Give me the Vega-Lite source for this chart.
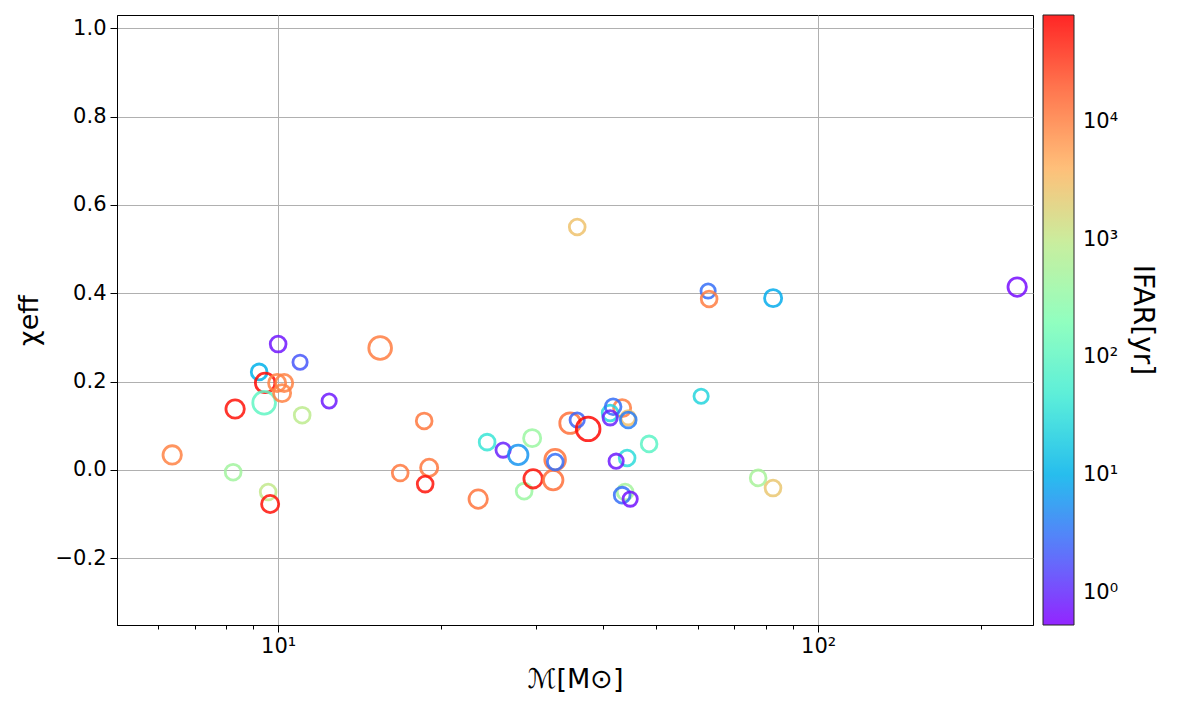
{
  "$schema": "https://vega.github.io/schema/vega-lite/v6.json",
  "width": 916,
  "height": 610,
  "autosize": "none",
  "padding": {"left": 117, "top": 15, "right": 163, "bottom": 88},
  "background": "white",
  "config": {
    "font": "DejaVu Sans",
    "view": {"stroke": "#000000", "strokeWidth": 1},
    "axis": {
      "domainColor": "#000000",
      "tickColor": "#000000",
      "gridColor": "#b0b0b0",
      "gridWidth": 1,
      "labelColor": "#000000",
      "labelFontSize": 21,
      "titleFontSize": 27,
      "titleFontWeight": "normal",
      "titleColor": "#000000"
    }
  },
  "data": {
    "values": [
      {"mchirp": 6.365, "chi_eff": 0.034, "ifar": 10000, "snr": 12},
      {"mchirp": 8.254, "chi_eff": -0.005, "ifar": 480, "snr": 10},
      {"mchirp": 8.324, "chi_eff": 0.138, "ifar": 60000, "snr": 12},
      {"mchirp": 9.222, "chi_eff": 0.222, "ifar": 10, "snr": 10},
      {"mchirp": 9.461, "chi_eff": 0.197, "ifar": 70000, "snr": 13},
      {"mchirp": 9.421, "chi_eff": 0.152, "ifar": 100, "snr": 16},
      {"mchirp": 9.583, "chi_eff": -0.05, "ifar": 1000, "snr": 10},
      {"mchirp": 9.665, "chi_eff": -0.077, "ifar": 60000, "snr": 11},
      {"mchirp": 10.0, "chi_eff": 0.285, "ifar": 0.75, "snr": 10},
      {"mchirp": 9.957, "chi_eff": 0.197, "ifar": 10000, "snr": 11},
      {"mchirp": 10.26, "chi_eff": 0.197, "ifar": 10000, "snr": 11},
      {"mchirp": 10.17, "chi_eff": 0.174, "ifar": 10000, "snr": 11},
      {"mchirp": 10.98, "chi_eff": 0.244, "ifar": 2, "snr": 9},
      {"mchirp": 11.08, "chi_eff": 0.124, "ifar": 900, "snr": 10},
      {"mchirp": 12.43, "chi_eff": 0.156, "ifar": 0.8, "snr": 9},
      {"mchirp": 15.45, "chi_eff": 0.276, "ifar": 11000, "snr": 16},
      {"mchirp": 18.64, "chi_eff": 0.111, "ifar": 12000, "snr": 10},
      {"mchirp": 16.83, "chi_eff": -0.007, "ifar": 12000, "snr": 10},
      {"mchirp": 19.04, "chi_eff": 0.005, "ifar": 12000, "snr": 11},
      {"mchirp": 18.72, "chi_eff": -0.032, "ifar": 60000, "snr": 10},
      {"mchirp": 23.47, "chi_eff": -0.066, "ifar": 13000, "snr": 12},
      {"mchirp": 24.38, "chi_eff": 0.063, "ifar": 40, "snr": 10},
      {"mchirp": 26.1, "chi_eff": 0.045, "ifar": 0.9, "snr": 9},
      {"mchirp": 27.83, "chi_eff": 0.034, "ifar": 6, "snr": 13},
      {"mchirp": 29.54, "chi_eff": 0.072, "ifar": 400, "snr": 11},
      {"mchirp": 28.55, "chi_eff": -0.048, "ifar": 400, "snr": 10},
      {"mchirp": 29.66, "chi_eff": -0.02, "ifar": 60000, "snr": 12},
      {"mchirp": 32.31, "chi_eff": -0.023, "ifar": 14000, "snr": 13},
      {"mchirp": 32.58, "chi_eff": 0.023, "ifar": 13000, "snr": 14},
      {"mchirp": 32.6, "chi_eff": 0.018, "ifar": 3, "snr": 10},
      {"mchirp": 34.73, "chi_eff": 0.106, "ifar": 14000, "snr": 14},
      {"mchirp": 35.79, "chi_eff": 0.113, "ifar": 2.5, "snr": 9},
      {"mchirp": 37.51, "chi_eff": 0.093, "ifar": 70000, "snr": 17},
      {"mchirp": 35.8, "chi_eff": 0.55, "ifar": 2800, "snr": 10},
      {"mchirp": 43.36, "chi_eff": 0.14, "ifar": 11000, "snr": 11},
      {"mchirp": 41.19, "chi_eff": 0.129, "ifar": 25, "snr": 10},
      {"mchirp": 41.72, "chi_eff": 0.143, "ifar": 3, "snr": 10},
      {"mchirp": 41.2, "chi_eff": 0.118, "ifar": 0.9, "snr": 9},
      {"mchirp": 44.48, "chi_eff": 0.118, "ifar": 3000, "snr": 9},
      {"mchirp": 44.5, "chi_eff": 0.113, "ifar": 4, "snr": 10},
      {"mchirp": 48.64, "chi_eff": 0.059, "ifar": 90, "snr": 10},
      {"mchirp": 44.29, "chi_eff": 0.027, "ifar": 30, "snr": 10},
      {"mchirp": 42.26, "chi_eff": 0.02, "ifar": 0.8, "snr": 9},
      {"mchirp": 43.91, "chi_eff": -0.05, "ifar": 500, "snr": 10},
      {"mchirp": 43.36, "chi_eff": -0.057, "ifar": 3, "snr": 10},
      {"mchirp": 44.87, "chi_eff": -0.066, "ifar": 0.7, "snr": 9},
      {"mchirp": 60.72, "chi_eff": 0.167, "ifar": 25, "snr": 9},
      {"mchirp": 62.56, "chi_eff": 0.405, "ifar": 3, "snr": 9},
      {"mchirp": 62.83, "chi_eff": 0.387, "ifar": 11000, "snr": 10},
      {"mchirp": 82.54, "chi_eff": 0.389, "ifar": 9, "snr": 11},
      {"mchirp": 77.43, "chi_eff": -0.018, "ifar": 550, "snr": 10},
      {"mchirp": 82.5, "chi_eff": -0.041, "ifar": 2500, "snr": 10},
      {"mchirp": 233.7, "chi_eff": 0.414, "ifar": 0.65, "snr": 12}
    ]
  },
  "mark": {"type": "point", "filled": false, "strokeWidth": 2.8, "opacity": 0.85},
  "encoding": {
    "x": {
      "field": "mchirp",
      "type": "quantitative",
      "scale": {"type": "log", "domain": [5.03, 250], "nice": false},
      "axis": {
        "title": "ℳ[M⊙]",
        "titlePadding": 10,
        "values": [6, 7, 8, 9, 10, 20, 30, 40, 50, 60, 70, 80, 90, 100, 200],
        "labelExpr": "datum.value == 10 ? '10¹' : datum.value == 100 ? '10²' : ''",
        "labelPadding": 3,
        "tickSize": {"condition": {"test": "datum.value == 10 || datum.value == 100", "value": 7}, "value": 4},
        "gridOpacity": {"condition": {"test": "datum.value == 10 || datum.value == 100", "value": 1}, "value": 0}
      }
    },
    "y": {
      "field": "chi_eff",
      "type": "quantitative",
      "scale": {"domain": [-0.351, 1.03], "nice": false, "zero": false},
      "axis": {
        "title": "χeff",
        "values": [-0.2, 0, 0.2, 0.4, 0.6, 0.8, 1.0],
        "format": ".1f",
        "tickSize": 7,
        "labelPadding": 4,
        "titlePadding": 12
      }
    },
    "color": {
      "field": "ifar",
      "type": "quantitative",
      "scale": {
        "type": "log",
        "domain": [0.53, 2.357, 10.48, 46.6, 207.2, 921.4, 4098, 18220, 81000],
        "range": ["#8000ff", "#4062fa", "#00b5eb", "#40ecd4", "#80ffb4", "#bfec8e", "#ffb462", "#ff6232", "#ff0000"],
        "interpolate": "rgb"
      },
      "legend": {
        "title": "IFAR[yr]",
        "orient": "none",
        "legendX": 926,
        "legendY": 0,
        "direction": "vertical",
        "gradientLength": 610,
        "gradientThickness": 31,
        "gradientStrokeColor": "#000000",
        "gradientStrokeWidth": 1,
        "values": [1, 10, 100, 1000, 10000],
        "labelExpr": "datum.value < 5 ? '10⁰' : datum.value < 50 ? '10¹' : datum.value < 500 ? '10²' : datum.value < 5000 ? '10³' : '10⁴'",
        "labelFontSize": 21,
        "labelColor": "#000000",
        "labelOffset": 9,
        "titleOrient": "right",
        "titleAngle": 90,
        "titleFontSize": 28,
        "titleFontWeight": "normal",
        "titleColor": "#000000",
        "titleAnchor": "middle",
        "titlePadding": 10
      }
    },
    "size": {
      "field": "snr",
      "type": "quantitative",
      "scale": {"domain": [8, 17], "range": [160, 560]},
      "legend": null
    }
  }
}
